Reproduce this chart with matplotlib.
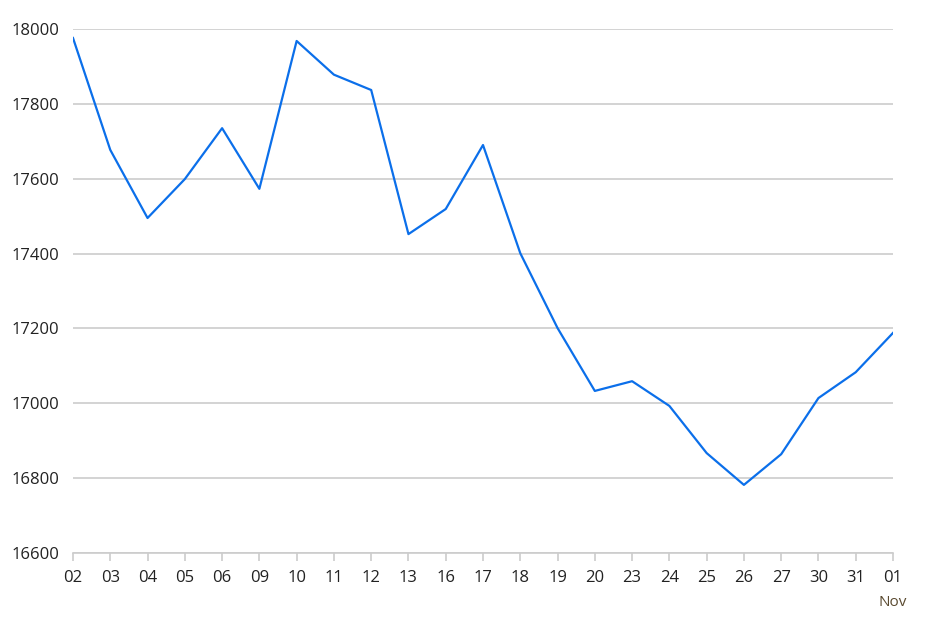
import matplotlib
matplotlib.use('Agg')
from matplotlib import pyplot as plt

DAYS = ['02', '03', '04', '05', '06', '09', '10', '11', '12', '13', '16',
        '17', '18', '19', '20', '23', '24', '25', '26', '27', '30', '31',
        '01']
VALUES = [17976, 17677, 17495, 17599, 17735, 17573, 17968, 17878, 17837,
          17452, 17519, 17690, 17401, 17201, 17033, 17059, 16993, 16867,
          16782, 16864, 17014, 17083, 17188]
Y_TICKS = [16600, 16800, 17000, 17200, 17400, 17600, 17800, 18000]

plt.rcParams['font.family'] = ['Open Sans', 'DejaVu Sans']

fig = plt.figure(figsize=(9.33, 6.31), dpi=100)
ax = fig.add_axes([73 / 933, 1 - 553 / 631, 820 / 933, 524 / 631])

x = list(range(len(DAYS)))
ax.plot(x, VALUES, color='#0b6fea', linewidth=1.6, zorder=3)

ax.set_xlim(0, len(DAYS) - 1)
ax.set_ylim(16600, 18000)
ax.set_yticks(Y_TICKS)
ax.set_yticklabels([str(v) for v in Y_TICKS])
ax.set_xticks(x)
ax.set_xticklabels(DAYS)

ax.grid(axis='y', color='#cccccc', linewidth=1.2, zorder=1)
for side in ['top', 'right', 'left']:
    ax.spines[side].set_visible(False)
ax.spines['bottom'].set_color('#cccccc')
ax.spines['bottom'].set_linewidth(1.2)
ax.spines['bottom'].set_zorder(1)

ax.tick_params(axis='y', length=0, pad=10, labelsize=12,
               labelcolor='#222222')
ax.tick_params(axis='x', length=6, width=1.2, color='#cccccc', pad=6,
               labelsize=12, labelcolor='#222222')

# month marker under the last day
ax.text(len(DAYS) - 1, -0.08, 'Nov', transform=ax.get_xaxis_transform(),
        ha='center', va='top', fontsize=11, color='#5a4a30')

fig.savefig('out.png', dpi=100, facecolor='white')
